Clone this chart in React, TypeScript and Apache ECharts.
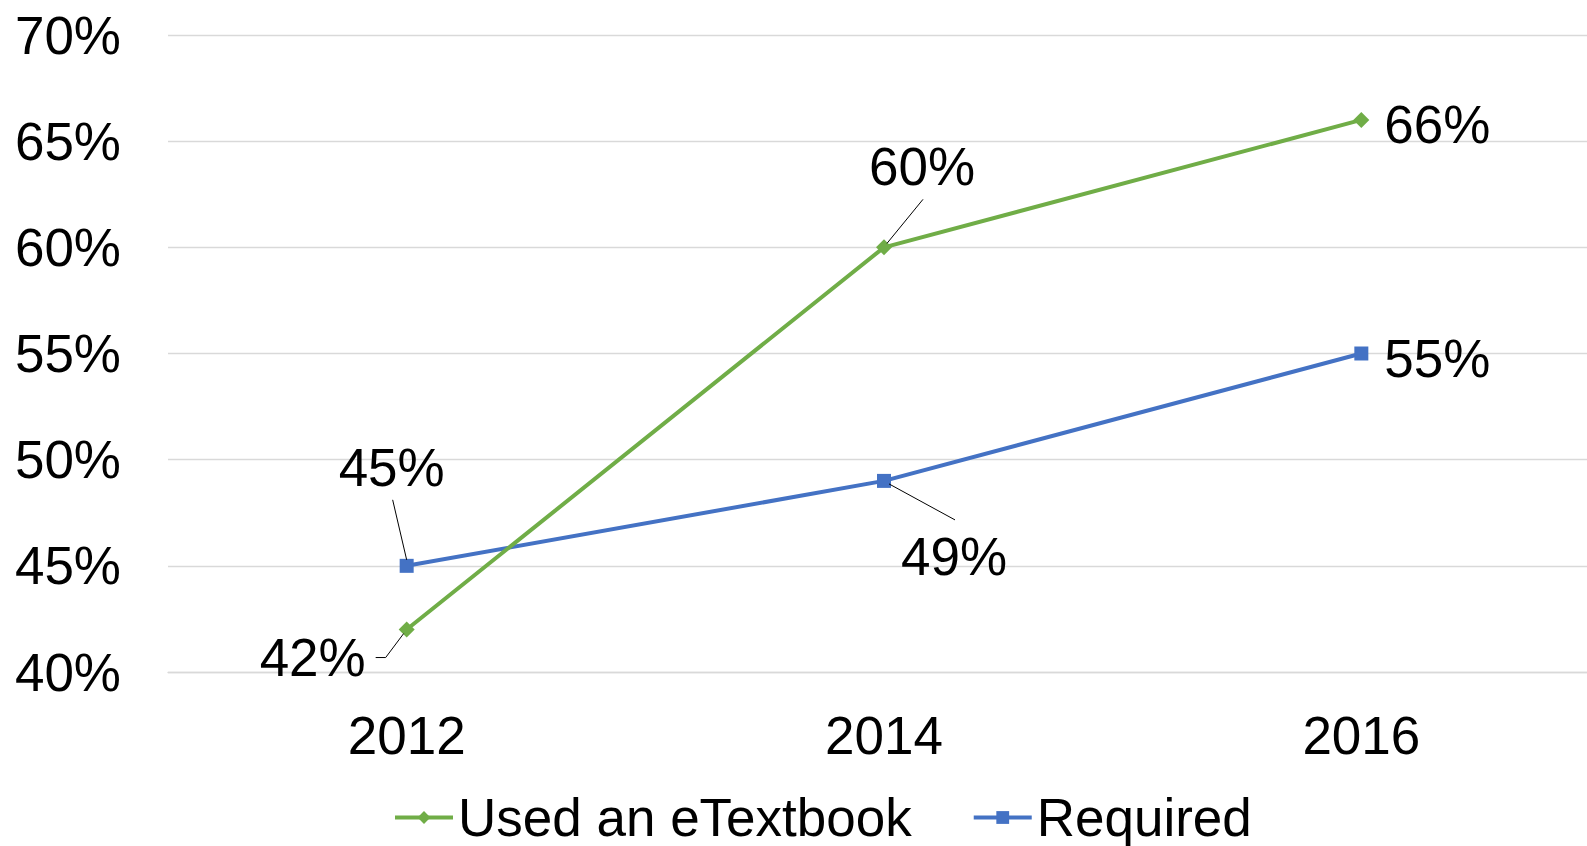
import React, { useEffect, useRef } from "react";
import * as echarts from "echarts";

const years = ["2012", "2014", "2016"];
const usedEtextbook = [42, 60, 66];
const required = [45, 49, 55];
const seriesNames = ["Used an eTextbook", "Required"];
// label offsets (relative to the point) for each data label
const usedLabelOffsets = [[-94, 28], [38, -81], [76, 5]];
const requiredLabelOffsets = [[-15, -98], [70, 76], [76, 5]];
// leader line points relative to the data point (null = no leader)
const usedLeaders: (number[][] | null)[] = [
  [[-3, 4], [-21, 28], [-31, 28]],
  [[3, -4], [39, -48]],
  null,
];
const requiredLeaders: (number[][] | null)[] = [
  [[0, -6], [-14, -66]],
  [[5, 3], [71, 39]],
  null,
];

const FONT = "'Liberation Sans', Arial, sans-serif";
const FS = 53;

export default function App() {
  const ref = useRef<HTMLDivElement>(null);
  useEffect(() => {
    const chart = echarts.init(ref.current!, null, { renderer: "svg" });
    const mkLayout = (offs: number[][]) => (params: any) => {
      const r = params.rect;
      const cx = r.x + r.width / 2;
      const cy = r.y + r.height / 2;
      const o = offs[params.dataIndex];
      return {
        x: cx + o[0],
        y: cy + o[1],
        align: "center",
        verticalAlign: "middle",
      };
    };
    chart.setOption({
      animation: false,
      grid: {
        left: 168,
        width: 1432,
        top: 35,
        bottom: 174,
        outerBoundsMode: "none",
        containLabel: false,
      },
      legend: {
        data: seriesNames,
        left: 388,
        top: 786,
        itemWidth: 58,
        itemHeight: 16,
        itemGap: 60,
        lineStyle: { width: 4 },
        textStyle: { fontSize: FS, lineHeight: 50, color: "#000", fontFamily: FONT },
      },
      xAxis: {
        type: "category",
        data: years,
        boundaryGap: true,
        axisLine: { show: true, lineStyle: { color: "#d9d9d9", width: 1.3 } },
        axisTick: { show: false },
        axisLabel: { fontSize: FS, color: "#000", fontFamily: FONT, margin: 37 },
      },
      yAxis: {
        type: "value",
        min: 40,
        max: 70,
        interval: 5,
        axisLine: { show: false },
        axisTick: { show: false },
        splitLine: { lineStyle: { color: "#d9d9d9", width: 1.3 } },
        axisLabel: {
          fontSize: FS,
          color: "#000",
          fontFamily: FONT,
          margin: 47,
          formatter: "{value}%",
        },
      },
      series: [
        {
          name: seriesNames[0],
          type: "line",
          data: usedEtextbook,
          color: "#70AD47",
          lineStyle: { width: 4, color: "#70AD47" },
          symbol: "diamond",
          symbolSize: 16,
          itemStyle: { color: "#70AD47" },
          label: {
            show: true,
            formatter: "{c}%",
            fontSize: FS,
            color: "#000",
            fontFamily: FONT,
          },
          labelLayout: mkLayout(usedLabelOffsets),
          z: 3,
        },
        {
          name: seriesNames[1],
          type: "line",
          data: required,
          color: "#4472C4",
          lineStyle: { width: 4, color: "#4472C4" },
          symbol: "rect",
          symbolSize: 14,
          itemStyle: { color: "#4472C4" },
          label: {
            show: true,
            formatter: "{c}%",
            fontSize: FS,
            color: "#000",
            fontFamily: FONT,
          },
          labelLayout: mkLayout(requiredLabelOffsets),
          z: 2,
        },
      ],
    });
    // leader lines, anchored on the points through the chart's own scales
    const graphics: any[] = [];
    const addLeaders = (seriesIndex: number, vals: number[], leaders: (number[][] | null)[]) => {
      vals.forEach((v, i) => {
        const l = leaders[i];
        if (!l) return;
        const p = chart.convertToPixel({ seriesIndex }, [i, v]) as number[];
        graphics.push({
          type: "polyline",
          shape: { points: l.map((d) => [p[0] + d[0], p[1] + d[1]]) },
          style: { stroke: "#000", lineWidth: 1, fill: null },
          z: 10,
        });
      });
    };
    addLeaders(0, usedEtextbook, usedLeaders);
    addLeaders(1, required, requiredLeaders);
    chart.setOption({ graphic: graphics });
    return () => chart.dispose();
  }, []);
  return (
    <div
      ref={ref}
      style={{ position: "fixed", left: 0, top: 0, width: 1587, height: 846, background: "#fff" }}
    />
  );
}
